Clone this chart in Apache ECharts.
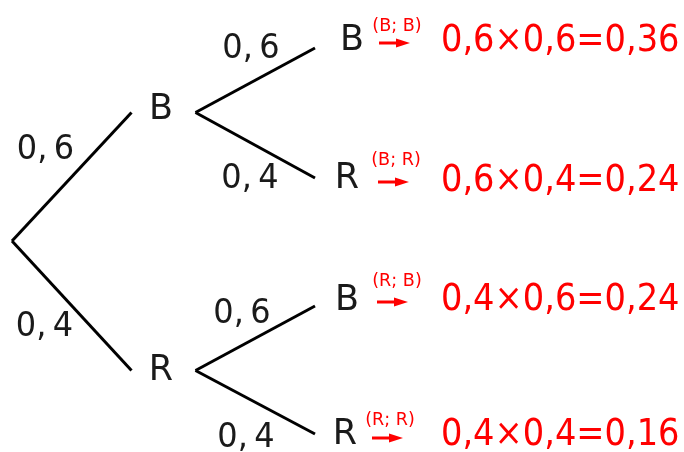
<!DOCTYPE html>
<html><head><meta charset="utf-8">
<script src="https://cdn.jsdelivr.net/npm/echarts@6/dist/echarts.min.js"></script>
<style>html,body{margin:0;padding:0;background:#fff}#c{width:684px;height:452px}</style>
</head><body><div id="c"></div>
<script>
// ---------- DATA ----------
const firstDraw = ['B', 'R'];
const firstProb = [0.6, 0.4];
const secondDraw = ['B', 'R'];
const secondProb = [0.6, 0.4];
const outcomeTags = ['(B; B)', '(B; R)', '(R; B)', '(R; R)'];

// ---------- LAYOUT (axis units) ----------
const LAYOUT = {
  root: [12, 241],
  lvl1End: 131.5, lvl1LabelX: 161, lvl1Start: 195.5, lvl1Y: [112.5, 370.5], lvl1LabelY: [110, 371],
  leafEnd: 315, leafY: [48, 178, 306, 434],
  leafLabelX: [352, 347, 347, 345], leafLabelY: [41, 179, 301, 435],
  edge1Label: [[45.5, 150], [44.5, 327]],
  edge2Label: [[251, 49], [250, 179], [242, 314], [246, 438]],
  tagX: [397, 396, 397, 390], tagY: [26, 160, 281, 420],
  arrowX: [[379, 410], [378, 409], [377, 408], [372, 403]], arrowY: [43, 182, 302, 438],
  resultX: 441, resultY: [41, 181, 300, 435]
};

const fmtEdge = v => v.toFixed(1).replace('.', ',\u2009');
const fmt1 = v => v.toFixed(1).replace('.', ',');
const fmt2 = v => v.toFixed(2).replace('.', ',');

// ---------- BUILD ----------
const edges = [];
const texts = [];
const arrows = [];
const BLACK = '#1a1a1a', RED = '#ff0000';
firstDraw.forEach((d1, i) => {
  const y1 = LAYOUT.lvl1Y[i];
  edges.push([LAYOUT.root[0], LAYOUT.root[1], LAYOUT.lvl1End, y1]);
  texts.push({x: LAYOUT.lvl1LabelX, y: LAYOUT.lvl1LabelY[i], text: d1, size: 35, color: BLACK, align: 'center'});
  texts.push({x: LAYOUT.edge1Label[i][0], y: LAYOUT.edge1Label[i][1], text: fmtEdge(firstProb[i]), size: 32, sy: 1.04, color: BLACK, align: 'center'});
  secondDraw.forEach((d2, j) => {
    const k = i * secondDraw.length + j;
    edges.push([LAYOUT.lvl1Start, y1, LAYOUT.leafEnd, LAYOUT.leafY[k]]);
    texts.push({x: LAYOUT.edge2Label[k][0], y: LAYOUT.edge2Label[k][1], text: fmtEdge(secondProb[j]), size: 32, sy: 1.04, color: BLACK, align: 'center'});
    texts.push({x: LAYOUT.leafLabelX[k], y: LAYOUT.leafLabelY[k], text: d2, size: 35, color: BLACK, align: 'center'});
    texts.push({x: LAYOUT.tagX[k], y: LAYOUT.tagY[k], text: outcomeTags[k], size: 18.5, sx: 0.95, color: RED, align: 'center'});
    arrows.push([LAYOUT.arrowX[k][0], LAYOUT.arrowX[k][1], LAYOUT.arrowY[k]]);
    const prod = firstProb[i] * secondProb[j];
    texts.push({x: LAYOUT.resultX, y: LAYOUT.resultY[k],
      text: fmt1(firstProb[i]) + '×' + fmt1(secondProb[j]) + '=' + fmt2(prod),
      size: 37, color: RED, align: 'left', sx: 0.91});
  });
});

const chart = echarts.init(document.getElementById('c'), null, {renderer: 'canvas'});
chart.setOption({
  animation: false,
  backgroundColor: '#fff',
  grid: {left: 0, right: 0, top: 0, bottom: 0},
  xAxis: {type: 'value', min: 0, max: 684, show: false},
  yAxis: {type: 'value', min: 0, max: 452, inverse: true, show: false},
  series: [
    {
      type: 'custom', clip: false, silent: true,
      data: edges,
      renderItem: (params, api) => {
        const a = api.coord([api.value(0), api.value(1)]);
        const b = api.coord([api.value(2), api.value(3)]);
        return {type: 'line', shape: {x1: a[0], y1: a[1], x2: b[0], y2: b[1]},
          style: {stroke: '#000', lineWidth: 3, lineCap: 'butt'}};
      }
    },
    {
      type: 'custom', clip: false, silent: true,
      data: arrows,
      renderItem: (params, api) => {
        const a = api.coord([api.value(0), api.value(2)]);
        const b = api.coord([api.value(1), api.value(2)]);
        const head = 14, half = 4.5;
        return {type: 'group', children: [
          {type: 'line', shape: {x1: a[0], y1: a[1], x2: b[0] - head + 1, y2: b[1]},
            style: {stroke: RED, lineWidth: 3}},
          {type: 'polygon', shape: {points: [[b[0], b[1]], [b[0] - head, b[1] - half], [b[0] - head, b[1] + half]]},
            style: {fill: RED}}
        ]};
      }
    },
    {
      type: 'custom', clip: false, silent: true,
      data: texts.map(t => [t.x, t.y]),
      renderItem: (params, api) => {
        const t = texts[params.dataIndex];
        const p = api.coord([api.value(0), api.value(1)]);
        return {type: 'text', x: p[0], y: p[1], scaleX: t.sx || 1, scaleY: t.sy || 1,
          style: {text: t.text, fontSize: t.size, fontFamily: 'DejaVu Sans', fill: t.color,
            align: t.align, verticalAlign: 'middle'}};
      }
    }
  ]
});
</script></body></html>
